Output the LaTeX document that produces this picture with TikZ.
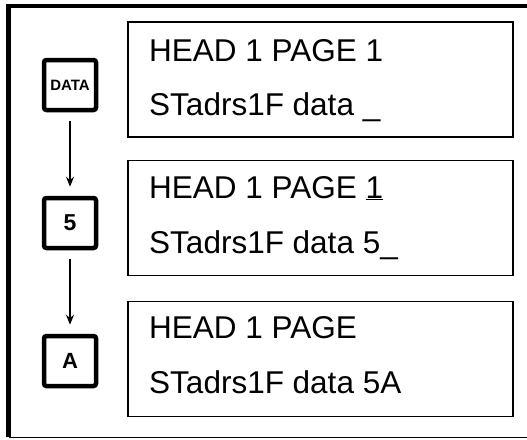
\documentclass[tikz,border=0pt]{standalone}
\usepackage{fontspec}
\setmainfont{Liberation Sans}
\usetikzlibrary{arrows.meta}
\begin{document}
\begin{tikzpicture}[x=1pt,y=-1pt,
  panel/.style={draw, line width=1.7pt, minimum width=385pt, minimum height=115pt, inner sep=0pt},
  ptext/.style={anchor=base west, inner sep=0pt, font=\fontsize{31.5}{37}\selectfont},
  key/.style={draw, line width=4.5pt, rounded corners=2.5pt, minimum width=52pt, minimum height=50pt, inner sep=0pt},
  flow/.style={line width=1.6pt, -{Stealth[length=10pt,width=8pt]}, shorten <=9pt, shorten >=9pt}]
\useasboundingbox (0,0) rectangle (527,439);
% outer frame (right side lies outside the picture)
\draw[line width=4pt] (6,6) -- (540,6);
\draw[line width=5pt] (8.5,4) -- (8.5,437);
\draw[line width=1.5pt] (8.5,437.5) -- (540,437.5);
% panels
\node[panel] (p1) at (320.5,79.5) {};
\node[panel] (p2) at (320.5,218) {};
\node[panel] (p3) at (320.5,359) {};
\node[ptext] (t1a) at (149,61) {HEAD 1 PAGE 1};
\node[ptext] (t1b) at (149,115) {STadrs1F data \_};
\node[ptext] (t2a) at (149,198) {HEAD 1 PAGE \underline{1}};
\node[ptext] (t2b) at (149,253) {STadrs1F data 5\_};
\node[ptext] (t3a) at (149,338) {HEAD 1 PAGE};
\node[ptext] (t3b) at (149,393) {STadrs1F data 5A};
% key boxes
\node[key, font=\bfseries\fontsize{15}{17}\selectfont] (kd) at (70,85) {DATA};
\node[key, font=\bfseries\fontsize{23}{25}\selectfont] (k5) at (70,223) {5};
\node[key, font=\bfseries\fontsize{22}{24}\selectfont] (ka) at (70,361) {A};
\draw[flow] (kd) -- (k5);
\draw[flow] (k5) -- (ka);
\end{tikzpicture}
\end{document}
